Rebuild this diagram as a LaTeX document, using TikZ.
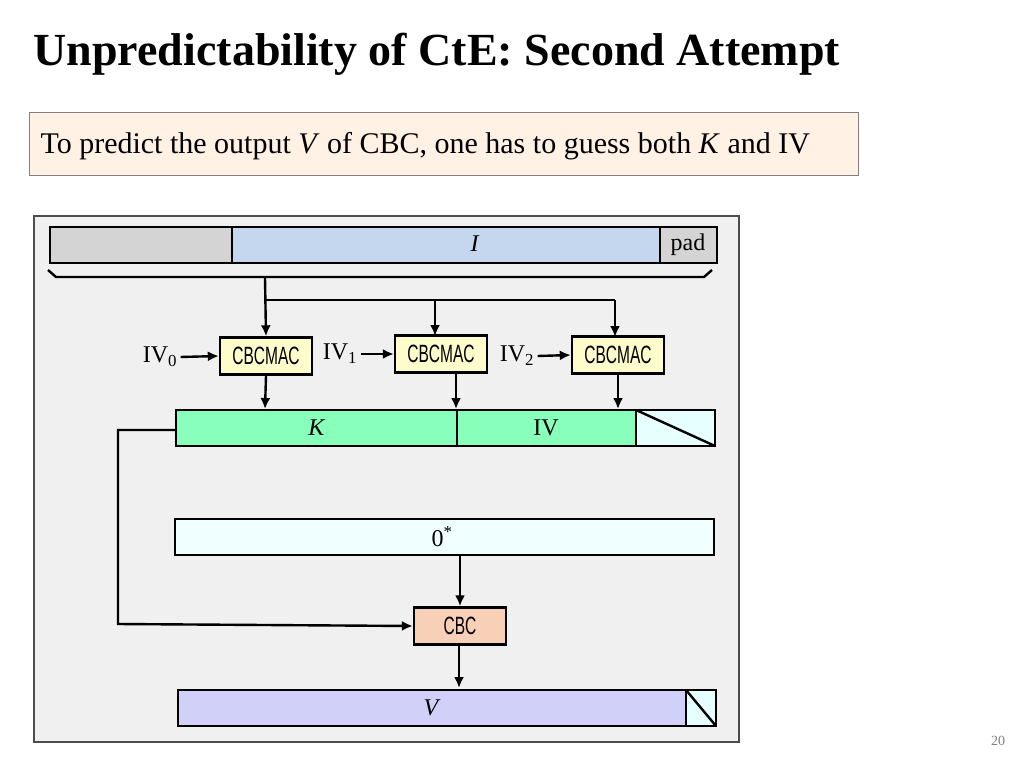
\documentclass[tikz,border=0pt]{standalone}
\usepackage{fontspec}
\setmainfont{Liberation Serif}
\newfontfamily\condsans{Liberation Sans}
\usetikzlibrary{arrows.meta}
\begin{document}
\begin{tikzpicture}[x=1pt,y=-1pt,>={Latex[length=11pt,width=10pt]},
  bar/.style={draw=black,line width=2.4pt},
  mac/.style={draw=black,line width=2.4pt,fill=yellow!20,minimum width=92pt,minimum height=37pt,inner sep=0pt,font=\condsans\fontsize{25}{25}\selectfont},
  lab/.style={font=\fontsize{24}{24}\selectfont},
  arr/.style={->,line width=2.4pt}]
\useasboundingbox (0,0) rectangle (1024,768);
\fill[white] (0,0) rectangle (1024,768);
\node[anchor=base west,font=\bfseries\fontsize{46}{46}\selectfont] (title) at (30,66) {Unpredictability of CtE: Second Attempt};
\node[draw=gray,fill=orange!10,anchor=north west,minimum width=829pt,minimum height=63pt,inner sep=0pt] (callout) at (29,112) {};
\node[anchor=west,font=\fontsize{30}{30}\selectfont] (ctext) at (37,146) {To predict the output \textit{V} of CBC, one has to guess both \textit{K} and IV};
\node[draw=black!70,line width=1.5pt,fill=black!6,anchor=north west,minimum width=705pt,minimum height=526pt,inner sep=0pt] (frame) at (33,215) {};
% top bar
\draw[bar,fill=black!17] (50,227) rectangle (232,263);
\draw[bar,fill={rgb,255:red,197;green,215;blue,238}] (232,227) rectangle (660,263);
\node[lab] (I) at (475,244) {\textit{I}};
\draw[bar,fill=black!17] (660,227) rectangle (717,263);
\node[lab] (pad) at (688,245) {pad};
% brace
\draw[line width=2.4pt] (48,270) -- (56,277) -- (704,277) -- (712,270);
\coordinate (b0) at (265,278);
\coordinate (bs) at (265,300);
\node[mac] (m1) at (266,356) {\scalebox{0.62}[1]{CBCMAC}};
\node[mac] (m2) at (441,354) {\scalebox{0.62}[1]{CBCMAC}};
\node[mac] (m3) at (618,355) {\scalebox{0.62}[1]{CBCMAC}};
\draw[arr] (b0) -- (m1.north);
\draw[line width=2.4pt] (bs) -- (615,300);
\draw[arr] (435,300) -- (435,336);
\draw[arr] (615,300) -- (615,337);
\node[lab] (iv0) at (160,357) {IV\textsubscript{0}};
\node[lab] (iv1) at (340,354) {IV\textsubscript{1}};
\node[lab] (iv2) at (517,356) {IV\textsubscript{2}};
\draw[arr] (iv0.east) -- (m1.west);
\draw[arr] (iv1.east) -- (m2.west);
\draw[arr] (iv2.east) -- (m3.west);
% K / IV bar
\draw[bar,fill={rgb,255:red,136;green,255;blue,187}] (176,410) rectangle (457,446);
\draw[bar,fill={rgb,255:red,136;green,255;blue,187}] (457,410) rectangle (636,446);
\draw[bar,fill={rgb,255:red,230;green,255;blue,255}] (636,410) rectangle (715,446);
\draw[line width=2.4pt] (636,410) -- (715,446);
\node[lab] (K) at (317,428) {\textit{K}};
\node[lab] (IV) at (546,428) {IV};
\draw[arr] (m1.south) -- (265,409);
\draw[arr] (456,373) -- (456,409);
\draw[arr] (618,374) -- (618,409);
% 0* bar
\draw[bar,fill={rgb,255:red,240;green,255;blue,255}] (175,519) rectangle (714,555);
\node[lab] (zero) at (442,537) {0\textsuperscript{*}};
\node[draw=black,line width=2.4pt,fill={rgb,255:red,248;green,208;blue,184},minimum width=92pt,minimum height=37pt,inner sep=0pt,font=\condsans\fontsize{25}{25}\selectfont] (cbc) at (460,626) {\scalebox{0.62}[1]{CBC}};
\draw[arr] (460,555) -- (cbc.north);
\draw[arr] (176,430) -- (118,430) -- (118,624) -- (cbc.west);
% V bar
\draw[bar,fill={rgb,255:red,208;green,208;blue,248}] (178,690) rectangle (686,726);
\draw[bar,fill={rgb,255:red,230;green,255;blue,255}] (686,690) rectangle (716,726);
\draw[line width=2.4pt] (686,690) -- (716,726);
\node[lab] (V) at (432,708) {\textit{V}};
\draw[arr] (459,645) -- (459,688);
\node[text=black!50,font=\fontsize{14}{14}\selectfont] (pg) at (998,741) {20};
\end{tikzpicture}
\end{document}
